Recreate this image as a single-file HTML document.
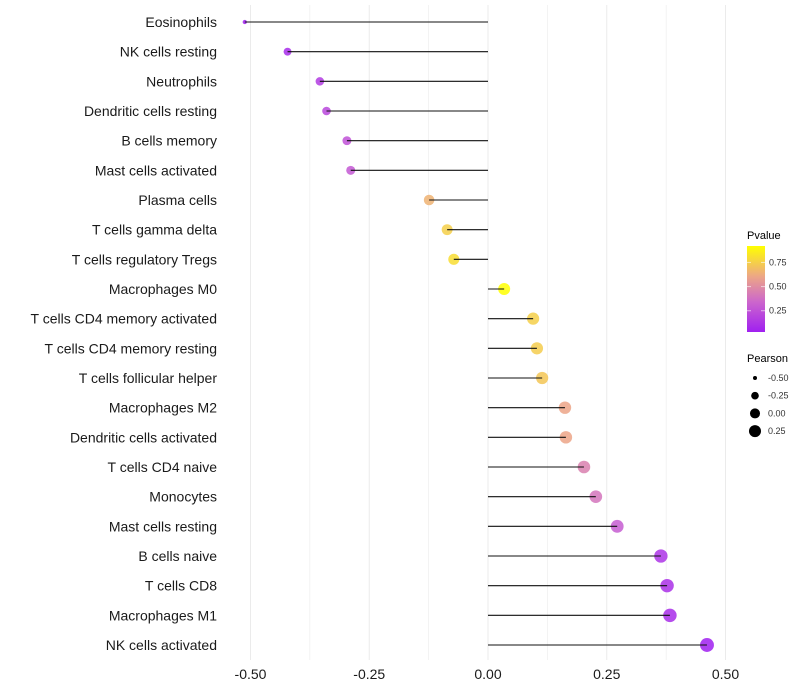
<!DOCTYPE html>
<html><head><meta charset="utf-8"><style>
body{margin:0;background:#fff;}
svg{display:block;font-family:"Liberation Sans",sans-serif;}
</style></head><body>
<svg id="chart" width="800" height="700">
<defs>
<linearGradient id="pg" x1="0" y1="1" x2="0" y2="0">
<stop offset="0" stop-color="#a020f0"/><stop offset="0.35" stop-color="#cc66cc"/>
<stop offset="0.65" stop-color="#eda785"/><stop offset="1" stop-color="#ffff00"/>
</linearGradient>
</defs>
<g id="grid"></g>
<g id="marks"></g>
<g id="ylab"></g>
<g id="xlab"></g>
<g>
<text x="747" y="239" font-size="11" fill="#000">Pvalue</text>
<rect x="747" y="246" width="18" height="86" fill="url(#pg)"/>
<g id="pleg"></g>
</g>
<g>
<text x="747" y="362" font-size="11" fill="#000">Pearson</text>
<g id="sleg"></g>
</g>
</svg>
<script>
const categories=["Eosinophils","NK cells resting","Neutrophils","Dendritic cells resting","B cells memory","Mast cells activated","Plasma cells","T cells gamma delta","T cells regulatory  Tregs ","Macrophages M0","T cells CD4 memory activated","T cells CD4 memory resting","T cells follicular helper","Macrophages M2","Dendritic cells activated","T cells CD4 naive","Monocytes","Mast cells resting","B cells naive","T cells CD8","Macrophages M1","NK cells activated"];
const pearson=[-0.512,-0.422,-0.354,-0.34,-0.297,-0.289,-0.124,-0.086,-0.072,0.034,0.095,0.103,0.114,0.162,0.164,0.202,0.227,0.272,0.364,0.377,0.383,0.461];
const pvalue=[0.03,0.08,0.15,0.2,0.25,0.28,0.65,0.75,0.8,0.92,0.75,0.74,0.72,0.6,0.6,0.45,0.4,0.3,0.12,0.1,0.09,0.03];
const xTicks=[-0.5,-0.25,0,0.25,0.5];
const xTickLabels=["-0.50","-0.25","0.00","0.25","0.50"];
const pTicks=[0.25,0.5,0.75];
const pTickLabels=["0.25","0.50","0.75"];
const sizeBreaks=[-0.5,-0.25,0,0.25];
const sizeLabels=["-0.50","-0.25","0.00","0.25"];

const NS="http://www.w3.org/2000/svg";
const X=v=>488+v*475;
const Y=i=>22+i*(623/21);
const rk=[[-0.52,2],[-0.42,4],[-0.29,4.5],[-0.12,5.3],[0.03,6],[0.27,6.4],[0.47,7]];
function R(v){if(v<=rk[0][0])return rk[0][1];for(let k=1;k<rk.length;k++){if(v<=rk[k][0]){const a=rk[k-1],b=rk[k];return a[1]+(b[1]-a[1])*(v-a[0])/(b[0]-a[0]);}}return 7;}
const LR=v=>Math.sqrt(Math.max(1,4+42.7*(v+0.5)));
const P=p=>332-(p-0.03)/(0.92-0.03)*86;
const stops=[[0,[160,32,240]],[0.35,[204,102,204]],[0.65,[237,167,133]],[1,[255,255,0]]];
function col(p){let t=(p-0.03)/(0.89);t=Math.max(0,Math.min(1,t));
for(let k=1;k<stops.length;k++){if(t<=stops[k][0]){const a=stops[k-1],b=stops[k];const f=(t-a[0])/(b[0]-a[0]);
return "rgb("+a[1].map((c,j)=>Math.round(c+(b[1][j]-c)*f)).join(",")+")";}}return "rgb(255,255,0)";}
function mk(tag,at,par){const e=document.createElementNS(NS,tag);for(const k in at)e.setAttribute(k,at[k]);par.appendChild(e);return e;}
const grid=document.getElementById('grid');
for(let v=-0.5;v<=0.5001;v+=0.125){
const l=mk('line',{x1:X(v),x2:X(v),y1:5,y2:660,stroke:'#ebebeb','stroke-width':Math.abs((v*4)%1)<0.01?1:0.6},grid);


}
const marks=document.getElementById('marks'),ylab=document.getElementById('ylab');
categories.forEach((c,i)=>{
const y=Y(i);
const d=mk('circle',{cx:X(pearson[i]),cy:y,r:R(pearson[i]),fill:col(pvalue[i]),'fill-opacity':0.85},marks);


const s=mk('line',{x1:X(0),x2:X(pearson[i]),y1:y,y2:y,stroke:'#111','stroke-width':1.1},marks);


const t=mk('text',{x:217,y:y+5,'text-anchor':'end','font-size':14,fill:'#1a1a1a'},ylab);
t.textContent=c;


});
const xlab=document.getElementById('xlab');
xTicks.forEach((v,i)=>{const t=mk('text',{x:X(v),y:679,'text-anchor':'middle','font-size':14,fill:'#1a1a1a'},xlab);
t.textContent=xTickLabels[i];

});
const pleg=document.getElementById('pleg');
pTicks.forEach((v,i)=>{
mk('line',{x1:747,x2:751,y1:P(v),y2:P(v),stroke:'#fff','stroke-opacity':0.6},pleg);
mk('line',{x1:761,x2:765,y1:P(v),y2:P(v),stroke:'#fff','stroke-opacity':0.6},pleg);
const t=mk('text',{x:769,y:P(v)+3,'font-size':9,fill:'#333'},pleg);t.textContent=pTickLabels[i];

});
const sleg=document.getElementById('sleg');
sizeBreaks.forEach((v,i)=>{const y=378+i*17.7;
const c=mk('circle',{cx:755,cy:y,r:LR(v),fill:'#000'},sleg);


const t=mk('text',{x:768,y:y+3,'font-size':9,fill:'#333'},sleg);t.textContent=sizeLabels[i];

});
</script>
</body></html>
